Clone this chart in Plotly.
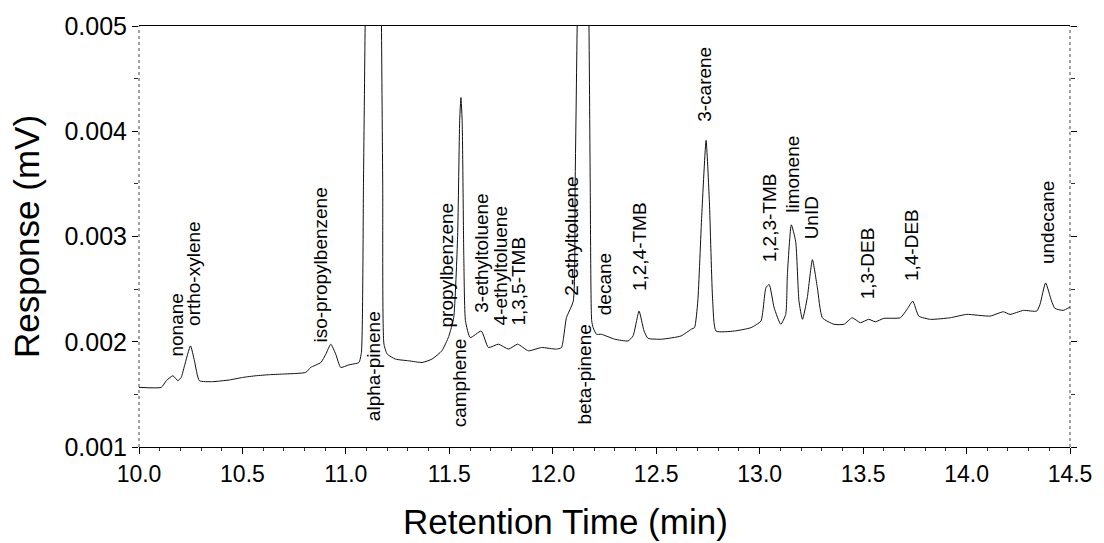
import plotly.graph_objects as go

# Chromatogram trace
time_min = [10.000, 10.108, 10.132, 10.164, 10.188, 10.204, 10.220, 10.249, 10.268, 10.292,
            10.356, 10.437, 10.501, 10.566, 10.630, 10.694, 10.806, 10.830, 10.879, 10.903,
            10.927, 10.951, 10.975, 11.015, 11.063, 11.075, 11.085, 11.093, 11.110, 11.135,
            11.160, 11.172, 11.178, 11.184, 11.200, 11.240, 11.304, 11.368, 11.416, 11.464,
            11.497, 11.521, 11.540, 11.550, 11.556, 11.562, 11.570, 11.578, 11.601, 11.654,
            11.689, 11.737, 11.786, 11.830, 11.882, 11.946, 12.018, 12.042, 12.066, 12.099,
            12.108, 12.118, 12.150, 12.175, 12.181, 12.188, 12.195, 12.211, 12.235, 12.300,
            12.364, 12.388, 12.417, 12.441, 12.460, 12.524, 12.620, 12.669, 12.685, 12.701,
            12.720, 12.741, 12.757, 12.773, 12.789, 12.878, 12.958, 13.006, 13.030, 13.046,
            13.070, 13.102, 13.126, 13.134, 13.153, 13.174, 13.190, 13.207, 13.230, 13.255,
            13.279, 13.303, 13.359, 13.408, 13.447, 13.487, 13.527, 13.559, 13.600, 13.680,
            13.712, 13.740, 13.769, 13.825, 13.921, 14.001, 14.114, 14.178, 14.210, 14.275,
            14.339, 14.355, 14.382, 14.411, 14.427, 14.467, 14.500]
response_mv = [0.001567, 0.001567, 0.00163, 0.001677, 0.00163, 0.001661, 0.001772, 0.001961, 0.001819, 0.00163,
               0.001621, 0.001637, 0.001661, 0.001677, 0.001687, 0.001693, 0.001709, 0.001756, 0.001803, 0.001882,
               0.001977, 0.001882, 0.001756, 0.001781, 0.001803, 0.0019, 0.0035, 0.005, 0.008, 0.0095,
               0.008, 0.005, 0.0035, 0.001977, 0.001882, 0.001835, 0.001819, 0.001803, 0.001835, 0.001914,
               0.00205, 0.002228, 0.0030, 0.0041, 0.00432, 0.0041, 0.0028, 0.0022, 0.002039, 0.002102,
               0.001945, 0.001977, 0.00193, 0.001977, 0.001914, 0.001945, 0.00193, 0.001945, 0.002228, 0.002386,
               0.0035, 0.005, 0.009, 0.005, 0.0035, 0.0022, 0.002134, 0.002071, 0.002071, 0.002024,
               0.002008, 0.002055, 0.002291, 0.002102, 0.002033, 0.002024, 0.002055, 0.002119, 0.002134, 0.002386,
               0.0032, 0.003913, 0.00333, 0.002386, 0.002102, 0.002102, 0.002134, 0.002197, 0.002512, 0.002544,
               0.002323, 0.002166, 0.00226, 0.002638, 0.003111, 0.002953, 0.002386, 0.002213, 0.002417, 0.00278,
               0.002512, 0.002228, 0.002166, 0.002166, 0.002228, 0.002181, 0.002213, 0.00219, 0.002222, 0.002228,
               0.002307, 0.002386, 0.002244, 0.002213, 0.002228, 0.00226, 0.002244, 0.002285, 0.00226, 0.002298,
               0.002291, 0.002355, 0.002559, 0.002386, 0.002317, 0.002298, 0.00233]

# Peak labels
label_names = ["nonane", "ortho-xylene", "iso-propylbenzene", "alpha-pinene", "propylbenzene",
               "camphene", "3-ethyltoluene", "4-ethyltoluene", "1,3,5-TMB", "2-ethyltoluene",
               "beta-pinene", "decane", "1,2,4-TMB", "3-carene", "1,2,3-TMB",
               "limonene", "UnID", "1,3-DEB", "1,4-DEB", "undecane"]
label_x = [10.18, 10.26, 10.879, 11.135, 11.488,
           11.553, 11.657, 11.746, 11.834, 12.09,
           12.155, 12.25, 12.42, 12.733, 13.046,
           13.158, 13.255, 13.52, 13.737, 14.395]
label_y = [0.001838, 0.002134, 0.001977, 0.002308, 0.00212,
           0.00205, 0.00226, 0.002134, 0.002134, 0.002417,
           0.002181, 0.002228, 0.002464, 0.00407, 0.002733,
           0.003205, 0.002953, 0.002386, 0.002559, 0.002717]
label_side = ["above", "above", "above", "below", "above",
              "below", "above", "above", "above", "above",
              "below", "above", "above", "above", "above",
              "above", "above", "above", "above", "above"]

x_ticks = [10.0, 10.5, 11.0, 11.5, 12.0, 12.5, 13.0, 13.5, 14.0, 14.5]
y_ticks = [0.001, 0.002, 0.003, 0.004, 0.005]

FONT = "Liberation Sans, Arial, sans-serif"

fig = go.Figure()
fig.add_trace(go.Scatter(x=time_min, y=response_mv, mode="lines",
                         line=dict(color="#111111", width=1, shape="spline", smoothing=0.5),
                         showlegend=False, hoverinfo="skip"))

for name, lx, ly, side in zip(label_names, label_x, label_y, label_side):
    fig.add_annotation(x=lx, y=ly, text=name, textangle=-90, showarrow=False,
                       xanchor="center", yanchor="bottom" if side == "above" else "top",
                       font=dict(family=FONT, size=19, color="black"))

# x-axis title (placed slightly left of centre, as in the reference)
fig.add_annotation(xref="paper", yref="paper", x=0.4577, y=-0.177, xanchor="center", yanchor="middle",
                   text="Retention Time (min)", showarrow=False,
                   font=dict(family=FONT, size=35, color="black"))

# dotted left/right frame lines
for xp in (0, 1):
    fig.add_shape(type="line", xref="paper", yref="paper", x0=xp, x1=xp, y0=0, y1=1,
                  line=dict(color="#444444", width=1, dash="dot"))

fig.update_layout(
    width=1104, height=543, autosize=False,
    margin=dict(l=139, r=31, t=23, b=96),
    paper_bgcolor="white", plot_bgcolor="white",
    font=dict(family=FONT, color="black"),
    xaxis=dict(range=[10.0, 14.5], tickvals=x_ticks, ticktext=[f"{v:.1f}" for v in x_ticks],
               showgrid=False, zeroline=False, showline=True, linecolor="black", linewidth=1,
               mirror=True, ticks="outside", ticklen=6, tickcolor="black",
               minor=dict(dtick=0.1, ticks="outside", ticklen=3, tickcolor="#333333"),
               tickfont=dict(family=FONT, size=23)),
    yaxis=dict(range=[0.001, 0.005], tickvals=y_ticks, ticktext=[f"{v:.3f}" for v in y_ticks],
               showgrid=False, zeroline=False, showline=False, mirror="ticks",
               ticks="outside", ticklen=6, tickcolor="black",
               minor=dict(dtick=0.0005, ticks="outside", ticklen=4, tickcolor="#333333"),
               tickfont=dict(family=FONT, size=25),
               title=dict(text="Response (mV)", font=dict(family=FONT, size=35), standoff=14)),
)

fig.write_html("out.html")
